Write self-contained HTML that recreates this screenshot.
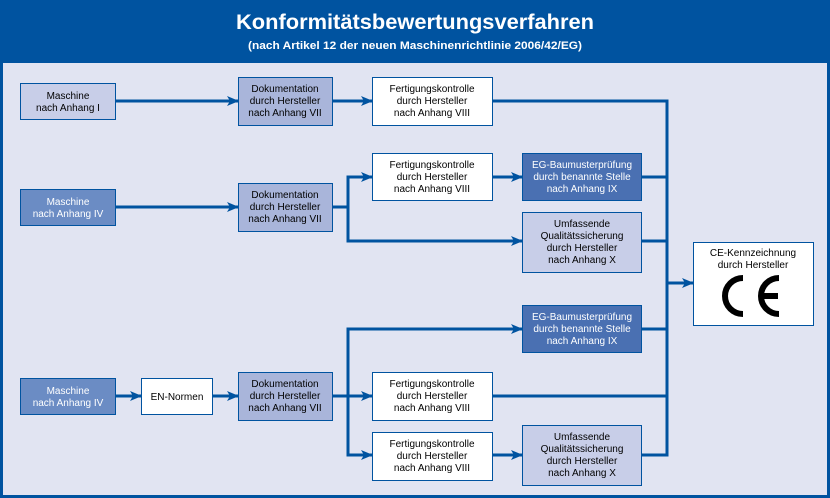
<!DOCTYPE html>
<html><head><meta charset="utf-8"><style>
html,body{margin:0;padding:0;background:#0053a0;}
svg{display:block;}
text{font-family:"Liberation Sans",sans-serif;}
</style></head><body>
<svg width="830" height="498" viewBox="0 0 830 498" xmlns="http://www.w3.org/2000/svg">
<defs>
<marker id="a" markerWidth="12" markerHeight="10" refX="11" refY="5" orient="auto" markerUnits="userSpaceOnUse" viewBox="0 0 12 10">
<path d="M0,0 L12,5 L0,10 L3,5 z" fill="#0053a0"/>
</marker>
</defs>
<rect x="0" y="0" width="830" height="498" fill="#0053a0"/>
<rect x="3" y="63" width="824" height="432" fill="#e1e4f2"/>
<text x="415" y="29" fill="#fff" font-size="21" font-weight="bold" text-anchor="middle" textLength="358" lengthAdjust="spacingAndGlyphs">Konformitätsbewertungsverfahren</text>
<text x="415" y="49" fill="#fff" font-size="11" font-weight="bold" text-anchor="middle" textLength="334" lengthAdjust="spacingAndGlyphs">(nach Artikel 12 der neuen Maschinenrichtlinie 2006/42/EG)</text>

<g stroke="#0053a0" stroke-width="3" fill="none">
<line x1="667" y1="99.5" x2="667" y2="456.5"/>
<line x1="667" y1="283" x2="693" y2="283" marker-end="url(#a)"/>
<line x1="115" y1="101" x2="238" y2="101" marker-end="url(#a)"/>
<line x1="332" y1="101" x2="372" y2="101" marker-end="url(#a)"/>
<line x1="492" y1="101" x2="667" y2="101"/>
<line x1="115" y1="207" x2="238" y2="207" marker-end="url(#a)"/>
<polyline points="332,207 348,207"/>
<line x1="348" y1="175.5" x2="348" y2="242.5"/>
<line x1="348" y1="177" x2="372" y2="177" marker-end="url(#a)"/>
<line x1="348" y1="241" x2="522" y2="241" marker-end="url(#a)"/>
<line x1="492" y1="177" x2="522" y2="177" marker-end="url(#a)"/>
<line x1="641" y1="177" x2="667" y2="177"/>
<line x1="641" y1="241" x2="667" y2="241"/>
<line x1="115" y1="396" x2="141" y2="396" marker-end="url(#a)"/>
<line x1="212" y1="396" x2="238" y2="396" marker-end="url(#a)"/>
<line x1="332" y1="396" x2="372" y2="396" marker-end="url(#a)"/>
<line x1="348" y1="327.5" x2="348" y2="456.5"/>
<line x1="348" y1="329" x2="522" y2="329" marker-end="url(#a)"/>
<line x1="348" y1="455" x2="372" y2="455" marker-end="url(#a)"/>
<line x1="492" y1="455" x2="522" y2="455" marker-end="url(#a)"/>
<line x1="492" y1="396" x2="667" y2="396"/>
<line x1="641" y1="329" x2="667" y2="329"/>
<line x1="641" y1="455" x2="667" y2="455"/>
</g>

<g stroke="#0053a0" stroke-width="1" font-size="10" text-anchor="middle">
<rect x="20.5" y="83.5" width="95" height="36" fill="#c8cee8"/>
<text x="68" y="99" stroke="none" fill="#000">Maschine</text><text x="68" y="111" stroke="none" fill="#000">nach Anhang I</text>

<rect x="238.5" y="77.5" width="94" height="48" fill="#a9b5da"/>
<text x="285" y="92" stroke="none" fill="#000">Dokumentation</text><text x="285" y="104" stroke="none" fill="#000">durch Hersteller</text><text x="285" y="116" stroke="none" fill="#000">nach Anhang VII</text>

<rect x="372.5" y="77.5" width="120" height="48" fill="#fff"/>
<text x="432" y="92" stroke="none" fill="#000">Fertigungskontrolle</text><text x="432" y="104" stroke="none" fill="#000">durch Hersteller</text><text x="432" y="116" stroke="none" fill="#000">nach Anhang VIII</text>

<rect x="20.5" y="189.5" width="95" height="36" fill="#6b8cc4"/>
<text x="68" y="205" stroke="none" fill="#fff">Maschine</text><text x="68" y="217" stroke="none" fill="#fff">nach Anhang IV</text>

<rect x="238.5" y="183.5" width="94" height="48" fill="#a9b5da"/>
<text x="285" y="198" stroke="none" fill="#000">Dokumentation</text><text x="285" y="210" stroke="none" fill="#000">durch Hersteller</text><text x="285" y="222" stroke="none" fill="#000">nach Anhang VII</text>

<rect x="372.5" y="153.5" width="120" height="47" fill="#fff"/>
<text x="432" y="168" stroke="none" fill="#000">Fertigungskontrolle</text><text x="432" y="180" stroke="none" fill="#000">durch Hersteller</text><text x="432" y="192" stroke="none" fill="#000">nach Anhang VIII</text>

<rect x="522.5" y="153.5" width="119" height="47" fill="#4a70b2"/>
<text x="582" y="168" stroke="none" fill="#fff">EG-Baumusterprüfung</text><text x="582" y="180" stroke="none" fill="#fff">durch benannte Stelle</text><text x="582" y="192" stroke="none" fill="#fff">nach Anhang IX</text>

<rect x="522.5" y="212.5" width="119" height="60" fill="#c8cee8"/>
<text x="582" y="227" stroke="none" fill="#000">Umfassende</text><text x="582" y="239" stroke="none" fill="#000">Qualitätssicherung</text><text x="582" y="251" stroke="none" fill="#000">durch Hersteller</text><text x="582" y="263" stroke="none" fill="#000">nach Anhang X</text>

<rect x="693.5" y="242.5" width="120" height="83" fill="#fff"/>
<text x="753" y="256" stroke="none" fill="#000">CE-Kennzeichnung</text><text x="753" y="268" stroke="none" fill="#000">durch Hersteller</text>

<rect x="522.5" y="305.5" width="119" height="47" fill="#4a70b2"/>
<text x="582" y="320" stroke="none" fill="#fff">EG-Baumusterprüfung</text><text x="582" y="332" stroke="none" fill="#fff">durch benannte Stelle</text><text x="582" y="344" stroke="none" fill="#fff">nach Anhang IX</text>

<rect x="20.5" y="378.5" width="95" height="36" fill="#6b8cc4"/>
<text x="68" y="394" stroke="none" fill="#fff">Maschine</text><text x="68" y="406" stroke="none" fill="#fff">nach Anhang IV</text>

<rect x="141.5" y="378.5" width="71" height="36" fill="#fff"/>
<text x="177" y="400" stroke="none" fill="#000">EN-Normen</text>

<rect x="238.5" y="372.5" width="94" height="48" fill="#a9b5da"/>
<text x="285" y="387" stroke="none" fill="#000">Dokumentation</text><text x="285" y="399" stroke="none" fill="#000">durch Hersteller</text><text x="285" y="411" stroke="none" fill="#000">nach Anhang VII</text>

<rect x="372.5" y="372.5" width="120" height="48" fill="#fff"/>
<text x="432" y="387" stroke="none" fill="#000">Fertigungskontrolle</text><text x="432" y="399" stroke="none" fill="#000">durch Hersteller</text><text x="432" y="411" stroke="none" fill="#000">nach Anhang VIII</text>

<rect x="372.5" y="432.5" width="120" height="48" fill="#fff"/>
<text x="432" y="447" stroke="none" fill="#000">Fertigungskontrolle</text><text x="432" y="459" stroke="none" fill="#000">durch Hersteller</text><text x="432" y="471" stroke="none" fill="#000">nach Anhang VIII</text>

<rect x="522.5" y="425.5" width="119" height="60" fill="#c8cee8"/>
<text x="582" y="440" stroke="none" fill="#000">Umfassende</text><text x="582" y="452" stroke="none" fill="#000">Qualitätssicherung</text><text x="582" y="464" stroke="none" fill="#000">durch Hersteller</text><text x="582" y="476" stroke="none" fill="#000">nach Anhang X</text>
</g>

<!-- CE mark -->
<g stroke="#000" stroke-width="6" fill="none">
<path d="M743,278 A18,18 0 0 0 743,314"/>
<path d="M779,278 A18,18 0 0 0 779,314"/>
<line x1="762" y1="296" x2="778" y2="296"/>
</g>
</svg>
</body></html>
